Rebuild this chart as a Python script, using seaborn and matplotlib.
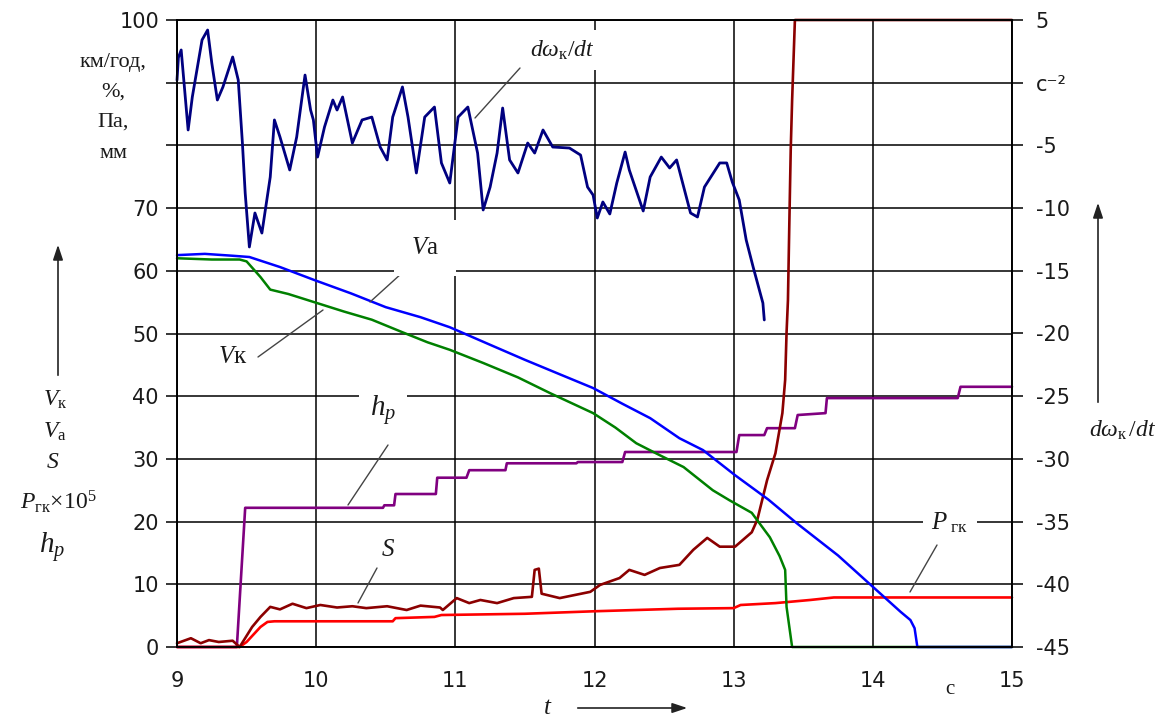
import matplotlib
matplotlib.use("Agg")
import matplotlib.pyplot as plt
import seaborn as sns
from matplotlib.lines import Line2D
from matplotlib.patches import FancyArrowPatch

# --- measured series (time in s) ---
# wheel angular deceleration dω/dt, s^-2 (right axis)
t_dw = [9.00, 9.01, 9.03, 9.08, 9.11, 9.18, 9.22, 9.25, 9.29, 9.33, 9.40,
        9.44, 9.47, 9.49, 9.52, 9.56, 9.61, 9.67, 9.70, 9.74, 9.81,
        9.86, 9.92, 9.96, 9.98, 10.01, 10.06, 10.12, 10.15, 10.19, 10.26,
        10.33, 10.40, 10.46, 10.51, 10.55, 10.62, 10.66, 10.72, 10.78, 10.85,
        10.90, 10.96, 11.02, 11.09, 11.16, 11.20, 11.25, 11.30, 11.34, 11.39,
        11.45, 11.52, 11.57, 11.63, 11.70, 11.82, 11.90, 11.95, 11.99, 12.02,
        12.06, 12.11, 12.16, 12.22, 12.25, 12.35, 12.40, 12.48, 12.54, 12.59,
        12.69, 12.74, 12.79, 12.90, 12.95, 12.99, 13.04, 13.09, 13.14, 13.21,
        13.22]
dw = [0.2, 2.0, 2.61, -3.77, -1.14, 3.41, 4.20, 1.57, -1.38, -0.34, 2.05,
      0.22, -4.81, -8.80, -13.10, -10.39, -11.99, -7.52, -2.97, -4.33, -6.96,
      -4.33, 0.61, -2.18, -2.97, -5.93, -3.53, -1.38, -2.18, -1.14, -4.81,
      -2.97, -2.74, -5.13, -6.16, -2.74, -0.34, -2.74, -7.20, -2.74, -1.94,
      -6.40, -8.00, -2.74, -1.94, -5.61, -10.15, -8.32, -5.61, -2.02, -6.16,
      -7.20, -4.81, -5.61, -3.77, -5.13, -5.21, -5.77, -8.32, -8.96, -10.79,
      -9.51, -10.47, -8.00, -5.53, -6.96, -10.23, -7.52, -5.93, -6.80, -6.16,
      -10.39, -10.71, -8.32, -6.40, -6.40, -7.92, -9.35, -12.54, -14.70, -17.57,
      -18.92]

# vehicle speed Va, km/h
t_va = [9.00, 9.20, 9.40, 9.52, 9.74, 9.99, 10.25, 10.50, 10.75, 10.96,
        11.25, 11.50, 11.75, 11.99, 12.20, 12.40, 12.61, 12.78, 13.01, 13.25,
        13.45, 13.75, 14.00, 14.20, 14.27, 14.30, 14.32, 15.00]
va = [62.5, 62.7, 62.4, 62.2, 60.6, 58.5, 56.4, 54.2, 52.6, 51.0,
      48.2, 45.8, 43.5, 41.3, 38.8, 36.5, 33.3, 31.4, 27.4, 23.5,
      19.8, 14.6, 9.6, 5.6, 4.3, 3.0, 0.0, 0.0]

# wheel speed Vk, km/h
t_vk = [9.00, 9.25, 9.45, 9.50, 9.60, 9.67, 9.80, 10.00, 10.20, 10.40,
        10.62, 10.80, 10.96, 11.20, 11.45, 11.68, 11.99, 12.15, 12.30, 12.45,
        12.64, 12.85, 12.97, 13.13, 13.26, 13.33, 13.37, 13.38, 13.42, 15.00]
vk = [62.0, 61.8, 61.8, 61.5, 59.0, 57.0, 56.3, 54.9, 53.5, 52.2,
      50.2, 48.6, 47.4, 45.3, 43.0, 40.5, 37.3, 35.0, 32.5, 30.8,
      28.7, 25.0, 23.4, 21.4, 17.5, 14.5, 12.3, 6.4, 0.0, 0.0]

# brake pedal travel hp, mm
t_hp = [9.00, 9.43, 9.49, 10.48, 10.49, 10.56, 10.57, 10.86, 10.87, 11.08,
        11.10, 11.36, 11.37, 11.87, 11.88, 12.20, 12.22, 13.02, 13.04, 13.22,
        13.24, 13.44, 13.46, 13.66, 13.67, 14.61, 14.63, 15.00]
hp = [0.0, 0.0, 22.2, 22.2, 22.6, 22.6, 24.4, 24.4, 27.0, 27.0,
      28.2, 28.2, 29.3, 29.3, 29.5, 29.5, 31.1, 31.1, 33.8, 33.8,
      34.9, 34.9, 37.0, 37.3, 39.7, 39.7, 41.5, 41.5]

# wheel slip S, %
t_s = [9.00, 9.10, 9.17, 9.23, 9.30, 9.40, 9.45, 9.54, 9.60, 9.67,
       9.74, 9.83, 9.93, 10.03, 10.15, 10.26, 10.36, 10.51, 10.65, 10.75,
       10.89, 10.91, 11.01, 11.10, 11.18, 11.30, 11.42, 11.55, 11.57, 11.60,
       11.62, 11.75, 11.97, 12.04, 12.18, 12.25, 12.36, 12.47, 12.61, 12.71,
       12.81, 12.90, 13.01, 13.13, 13.17, 13.24, 13.30, 13.35, 13.37, 13.38,
       13.39, 13.40, 13.41, 13.42, 13.44, 15.00]
s = [0.6, 1.4, 0.6, 1.1, 0.8, 1.0, 0.0, 3.2, 4.8, 6.4,
     6.0, 6.9, 6.2, 6.7, 6.3, 6.5, 6.2, 6.5, 5.9, 6.6,
     6.3, 5.9, 7.8, 7.0, 7.5, 7.0, 7.8, 8.0, 12.3, 12.5,
     8.5, 7.8, 8.8, 9.9, 11.0, 12.3, 11.5, 12.6, 13.1, 15.5,
     17.4, 16.0, 16.0, 18.3, 20.3, 26.6, 30.9, 37.3, 42.6, 50.1,
     55.3, 67.6, 79.3, 87.2, 100.0, 100.0]

# brake chamber pressure Pгк ×10^5, Pa
t_p = [9.00, 9.45, 9.50, 9.55, 9.60, 9.65, 9.70, 10.55, 10.57, 10.85,
       10.90, 11.50, 12.00, 12.60, 13.00, 13.05, 13.30, 13.55, 13.72, 15.00]
p = [0.0, 0.0, 0.8, 2.0, 3.2, 4.0, 4.1, 4.1, 4.6, 4.8,
     5.1, 5.3, 5.7, 6.1, 6.2, 6.7, 7.0, 7.5, 7.9, 7.9]

x_ticks = [9, 10, 11, 12, 13, 14, 15]
left_ticks = list(range(0, 101, 10))
left_labels = ["0", "10", "20", "30", "40", "50", "60", "70", "", "", "100"]
right_ticks = list(range(-45, 6, 5))
right_labels = ["-45", "-40", "-35", "-30", "-25", "-20", "-15", "-10", "-5",
                "с⁻²", "5"]

sns.set_style("white")
plt.rcParams["font.family"] = ["DejaVu Sans"]
plt.rcParams["mathtext.fontset"] = "custom"
plt.rcParams["mathtext.rm"] = "Liberation Serif"
plt.rcParams["mathtext.it"] = "Liberation Serif:italic"

W, H = 1173, 724
fig = plt.figure(figsize=(W / 100, H / 100), dpi=100)
ax = fig.add_axes([177 / W, 1 - 647 / H, (1012 - 177) / W, (647 - 20) / H])
ax2 = ax.twinx()


def draw(axis, x, y, color, lw):
    sns.lineplot(x=x, y=y, ax=axis, color=color, linewidth=lw,
                 estimator=None, sort=False, legend=False)
    axis.lines[-1].set_clip_on(False)


draw(ax, t_hp, hp, "#800080", 1.9)
draw(ax, t_p, p, "#ff0000", 1.9)
draw(ax, t_s, s, "#8b0000", 1.9)
draw(ax, t_vk, vk, "#008000", 1.8)
draw(ax, t_va, va, "#0000ff", 1.8)
draw(ax2, t_dw, dw, "#000080", 2.0)

ax.set_xlim(9, 15)
ax.set_ylim(0, 100)
ax2.set_ylim(-45, 5)
ax.set_xticks(x_ticks)
ax.set_xticklabels([str(v) for v in x_ticks])
ax.set_yticks(left_ticks)
ax.set_yticklabels(left_labels)
ax2.set_yticks(right_ticks)
ax2.set_yticklabels(right_labels)
ax.set_xlabel("")
ax.set_ylabel("")
ax2.set_ylabel("")

ax.grid(True, color="black", linewidth=1.1)
ax.set_axisbelow(True)
ax2.grid(False)
for a in (ax, ax2):
    for sp in a.spines.values():
        sp.set_color("black")
        sp.set_linewidth(1.2)
    a.tick_params(direction="out", length=8, width=1.1, colors="black",
                  labelsize=15, labelcolor="#1a1a1a")
ax.tick_params(axis="x", pad=9)
ax.tick_params(axis="y", pad=5)
ax2.tick_params(axis="y", pad=9)


def fx(x):
    return x / W


def fy(y):
    return 1 - y / H


def label(x, y, s, size=15, box=False, **kw):
    bbox = dict(facecolor="white", edgecolor="none", pad=kw.pop("pad", 3)) if box else None
    fig.text(fx(x), fy(y), s, ha="center", va="center", fontsize=size,
             color="#1a1a1a", bbox=bbox, family="Liberation Serif", **kw)


def leader(x0, y0, x1, y1):
    fig.add_artist(Line2D([fx(x0), fx(x1)], [fy(y0), fy(y1)],
                          color="#444444", linewidth=1.0,
                          transform=fig.transFigure))


def arrow(x0, y0, x1, y1):
    fig.add_artist(FancyArrowPatch((fx(x0), fy(y0)), (fx(x1), fy(y1)),
                                   transform=fig.transFigure,
                                   arrowstyle="-|>,head_length=9,head_width=3",
                                   color="#222222", linewidth=1.2,
                                   mutation_scale=1))


# units on the left axis
label(113, 63, "км/год,", 16)
label(113, 92, "%,", 16)
label(113, 122, "Па,", 16)
label(113, 153, "мм", 16)

# quantities on the left axis
arrow(58, 378, 58, 242)
label(55, 400, r"$V_{\mathrm{к}}$", 17)
label(55, 432, r"$V_{\mathrm{а}}$", 17)
label(53, 463, r"$S$", 17)
label(58, 502, r"$P_{\mathrm{гк}}{\times}\mathrm{10}^{5}$", 17)
label(52, 547, r"$h_p$", 21)

# right axis quantity
arrow(1098, 405, 1098, 200)
label(1123, 430, r"$d\omega_{\mathrm{к}}\,/dt$", 17)

# time axis
fig.text(fx(950), fy(690), "с", ha="center", va="center", fontsize=15,
         color="#1a1a1a", family="Liberation Serif")
label(548, 708, r"$t$", 18)
arrow(575, 708, 690, 708)

# curve labels with leaders
label(562, 50, r"$d\omega_{\mathrm{к}}/dt$", 17, box=True, pad=6)
leader(520, 68, 475, 118)
label(425, 248, r"$V\mathrm{а}$", 18, box=True, pad=12)
leader(402, 273, 370, 302)
label(233, 357, r"$V\mathrm{к}$", 18)
leader(258, 357, 323, 310)
label(383, 410, r"$h_p$", 21, box=True, pad=8)
leader(388, 445, 348, 505)
label(388, 550, r"$S$", 18)
leader(377, 568, 358, 603)
label(950, 523, r"$P_{\ \mathrm{гк}}$", 18, box=True, pad=6)
leader(937, 545, 910, 592)

fig.savefig("out.png", dpi=100)
